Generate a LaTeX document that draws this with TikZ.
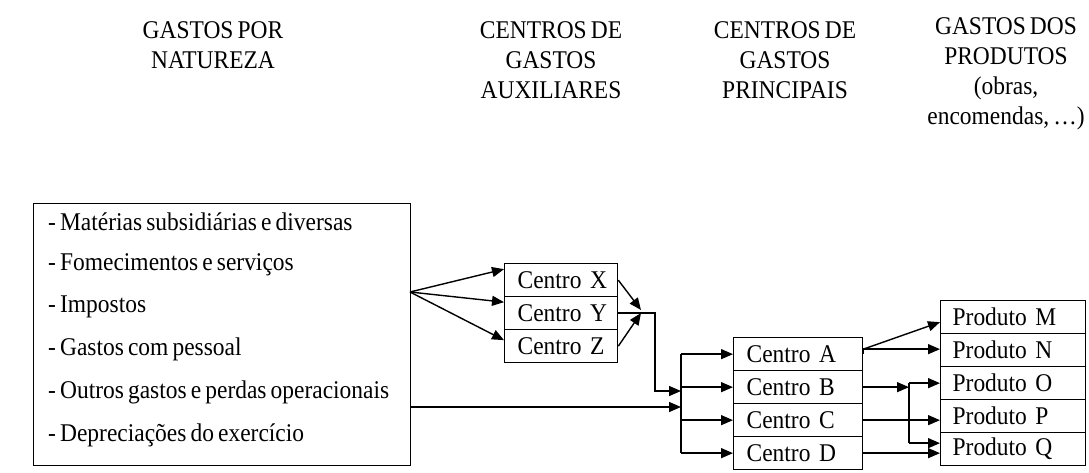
\documentclass[tikz,border=0pt]{standalone}
\usepackage{fontspec}
\setmainfont{Liberation Serif}[FakeStretch=0.92, WordSpace=0.7]
\usetikzlibrary{arrows.meta}

\tikzset{
  letra/.style={font=\fontsize{25.5}{30}\selectfont},
  titulo/.style={letra, align=center},
  caixa/.style={letra, draw, line width=1.3pt, anchor=north west, minimum height=33pt,
    inner ysep=0pt, inner xsep=13pt, text width=#1, align=left},
  seta/.style={line width=1.4pt, -{Triangle[length=12pt,width=10pt]}},
  linha/.style={line width=1.4pt}
}

\begin{document}
\begin{tikzpicture}[x=1pt,y=-1pt]
\useasboundingbox (0,0) rectangle (1089,473);

% column titles
\node[titulo] (t1) at (213,45) {GASTOS POR\\NATUREZA};
\node[titulo] (t2) at (551,60) {CENTROS DE\\GASTOS\\AUXILIARES};
\node[titulo] (t3) at (785,60) {CENTROS DE\\GASTOS\\PRINCIPAIS};
\node[titulo] (t4) at (1006,74) {GASTOS DOS\\PRODUTOS\\(obras,\\encomendas, \dots)};

% expenses by nature
\node[draw, line width=1.3pt, anchor=north west, minimum width=377pt, minimum height=262pt, inner sep=0pt] (natureza) at (33,203) {};
\foreach \txt [count=\i] in {- Matérias subsidiárias e diversas, - Fomecimentos e serviços, - Impostos,
    - Gastos com pessoal, - Outros gastos e perdas operacionais, - Depreciações do exercício}
  \node[letra, anchor=west, inner sep=0pt] (item\i) at (48,{222+42.6*(\i-1)}) {\txt};

% auxiliary centres
\node[caixa=87pt] (cx) at (504,263) {\mbox{Centro X}};
\node[caixa=87pt] (cy) at (504,296) {\mbox{Centro Y}};
\node[caixa=87pt] (cz) at (504,329) {\mbox{Centro Z}};

% main centres
\node[caixa=103pt, inner xsep=13pt] (ca) at (733,337) {\mbox{Centro A}};
\node[caixa=103pt, inner xsep=13pt] (cb) at (733,370) {\mbox{Centro B}};
\node[caixa=103pt, inner xsep=13pt] (cc) at (733,403) {\mbox{Centro C}};
\node[caixa=103pt, inner xsep=13pt] (cd) at (733,436) {\mbox{Centro D}};

% products
\node[caixa=121pt, inner xsep=12pt] (pm) at (940,300) {\mbox{Produto M}};
\node[caixa=121pt, inner xsep=12pt] (pn) at (940,333) {\mbox{Produto N}};
\node[caixa=121pt, inner xsep=12pt] (po) at (940,366) {\mbox{Produto O}};
\node[caixa=121pt, inner xsep=12pt] (pp) at (940,399) {\mbox{Produto P}};
\node[caixa=121pt, inner xsep=12pt] (pq) at (940,432) {\mbox{Produto Q}};

% junction points
\coordinate (leque) at (410,292);
\coordinate (juncao) at (641,310);
\coordinate (dobra) at (655,0);
\coordinate (entrada1) at (681,391);
\coordinate (entrada2) at (681,407);
\coordinate (barra) at (681,0);
\coordinate (saida) at ([yshift=5pt]ca.east);
\coordinate (barra2) at (909,0);
\coordinate (entradaq) at ([yshift=6pt]pq.west);

% nature -> auxiliary
\draw[seta] (leque) -- ([yshift=11pt]cx.west);
\draw[seta] (leque) -- ([yshift=11pt]cy.west);
\draw[seta] (leque) -- ([yshift=6pt]cz.west);

% auxiliary -> main
\draw[seta] (cx.east) -- (juncao);
\draw[seta] (cz.east) -- ([yshift=-3pt]juncao);
\draw[seta] (cy.east) -- (cy.east -| dobra) |- (entrada1);
\draw[seta] (natureza.east |- entrada2) -- (entrada2);
\draw[linha] (barra |- ca.west) -- (barra |- cd.west);
\foreach \c in {ca,cb,cc,cd}
  \draw[seta] (barra |- \c.west) -- (\c.west);

% main -> products
\draw[linha] (ca.east) -- (saida);
\draw[seta] (saida) -- ([yshift=-5pt]pm.west);
\draw[seta] (saida) -- (saida -| pn.west);
\draw[seta] (cb.east) -- (cb.east -| barra2);
\draw[linha] (barra2 |- po.west) -- (barra2 |- entradaq);
\draw[seta] (barra2 |- po.west) -- (po.west);
\draw[seta] (barra2 |- entradaq) -- (entradaq);
\draw[seta] (cc.east) -- (cc.east -| pp.west);
\draw[seta] (cd.east) -- (cd.east -| pq.west);

\end{tikzpicture}
\end{document}
